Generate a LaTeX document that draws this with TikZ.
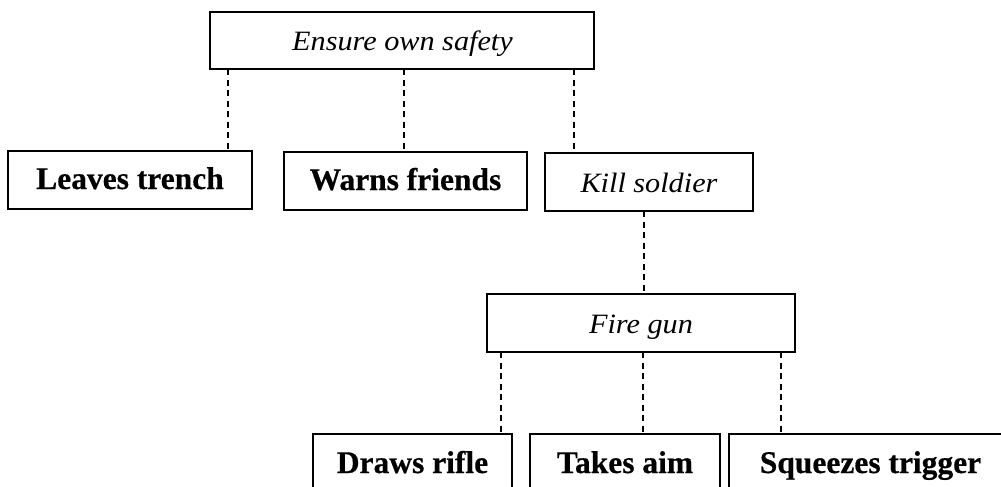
\documentclass[tikz,border=0pt]{standalone}
\usepackage{fontspec}
\setmainfont{Liberation Serif}
\newfontfamily\goalfont[FakeStretch=1.08]{Liberation Serif}
\newfontfamily\actfont[BoldFeatures={FakeBold=0.5}]{Liberation Serif}
\begin{document}
\begin{tikzpicture}[x=1pt,y=-1pt,
  goalbox/.style={draw=black, line width=1.2pt, inner sep=0pt, outer sep=0pt, anchor=center},
  goaltext/.style={anchor=base, inner sep=0pt, font=\goalfont\fontsize{28}{32}\selectfont\itshape},
  acttext/.style={anchor=base, inner sep=0pt, font=\actfont\fontsize{31.5}{36}\selectfont\bfseries},
  link/.style={draw=black, line width=1.3pt, dash pattern=on 6pt off 4.5pt}]
\useasboundingbox (0,0) rectangle (1001,487);

% boxes
\node[goalbox, minimum width=384pt, minimum height=57pt] (top) at (402,40.5) {};
\node[goalbox, minimum width=244pt, minimum height=58pt] (lt) at (130,180) {};
\node[goalbox, minimum width=243pt, minimum height=58pt] (wf) at (405.5,181) {};
\node[goalbox, minimum width=208pt, minimum height=58pt] (ks) at (649,182) {};
\node[goalbox, minimum width=308pt, minimum height=58pt] (fg) at (641,323) {};
\node[goalbox, minimum width=199pt, minimum height=86pt] (dr) at (412.5,477) {};
\node[goalbox, minimum width=190pt, minimum height=86pt] (ta) at (625,477) {};
\node[goalbox, minimum width=283pt, minimum height=86pt] (sq) at (870.5,477) {};

% labels
\node[goaltext] (t-top) at (402.5,51) {Ensure own safety};
\node[acttext] (t-lt) at (130,189) {Leaves trench};
\node[acttext] (t-wf) at (405.5,190) {Warns friends};
\node[goaltext] (t-ks) at (649,192) {Kill soldier};
\node[goaltext] (t-fg) at (641,333) {Fire gun};
\node[acttext] (t-dr) at (412.5,473) {Draws rifle};
\node[acttext] (t-ta) at (625,473) {Takes aim};
\node[acttext] (t-sq) at (870.5,473) {Squeezes trigger};

% dashed links
\draw[link] ([xshift=18pt]top.south west) -- ([xshift=220pt]lt.north west);
\draw[link] ([xshift=194pt]top.south west) -- ([xshift=120pt]wf.north west);
\draw[link] ([xshift=364pt]top.south west) -- ([xshift=29pt]ks.north west);
\draw[link] ([xshift=99pt]ks.south west) -- ([xshift=157pt]fg.north west);
\draw[link] ([xshift=14pt]fg.south west) -- ([xshift=188pt]dr.north west);
\draw[link] ([xshift=156pt]fg.south west) -- ([xshift=113pt]ta.north west);
\draw[link] ([xshift=294pt]fg.south west) -- ([xshift=52pt]sq.north west);
\end{tikzpicture}
\end{document}
